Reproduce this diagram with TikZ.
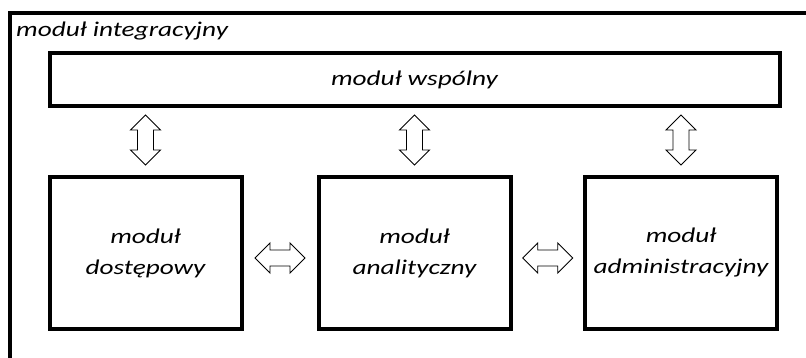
\documentclass[tikz,border=0pt]{standalone}
\usepackage{fontspec}
\usepackage{graphicx}
\setmainfont{Carlito}
\usetikzlibrary{calc}
\newcommand\stx[1]{\scalebox{1.3}[1]{#1}}
\tikzset{
  frame/.style={draw=black, line width=4pt, outer sep=0pt, inner sep=0pt, fill=white},
  modbox/.style={frame, minimum width=192pt, minimum height=152pt, align=center,
     font=\fontsize{21}{31}\selectfont\itshape},
  arrowline/.style={draw=black, line width=0.9pt, fill=white, line join=miter},
  lbl/.style={font=\fontsize{21}{31}\selectfont\itshape, inner sep=0pt}
}
\newcommand\vdarrow[1]{%
  \path[arrowline, shift={(#1)}] (0,-25) -- (15,-10) -- (8,-10) -- (8,10) -- (15,10) -- (0,25)
    -- (-15,10) -- (-8,10) -- (-8,-10) -- (-15,-10) -- cycle;}
\newcommand\hdarrow[1]{%
  \path[arrowline, shift={(#1)}] (-25,0) -- (-10,-15) -- (-10,-8) -- (10,-8) -- (10,-15) -- (25,0)
    -- (10,15) -- (10,8) -- (-10,8) -- (-10,15) -- cycle;}
\begin{document}
\begin{tikzpicture}[x=1pt,y=-1pt]
\useasboundingbox (0,0) rectangle (806,358);
\fill[white] (0,0) rectangle (806,358);
\node[frame, anchor=north west, minimum width=810pt, minimum height=360pt] (outer) at (10,13) {};
\node[lbl, anchor=base west] (outerlbl) at (16,37) {\stx{moduł integracyjny}};
\node[frame, minimum width=730pt, minimum height=53pt, lbl] (common) at (414.5,80) {\stx{moduł wspólny}};
\node[modbox] (lbox) at (145.5,253) {\stx{moduł}\\\stx{dostępowy}};
\node[modbox] (mbox) at (414.5,253) {\stx{moduł}\\\stx{analityczny}};
\node[modbox] (rbox) at (681,253) {\stx{moduł}\\\stx{administracyjny}};
\coordinate (a1) at ($(lbox.north)+(0,-37)$);
\coordinate (a2) at ($(mbox.north)+(0,-37)$);
\coordinate (a3) at ($(rbox.north)+(0,-37)$);
\coordinate (h1) at ($($(lbox.east)!0.5!(mbox.west)$)+(0,5)$);
\coordinate (h2) at ($($(mbox.east)!0.5!(rbox.west)$)+(0,5)$);
\vdarrow{a1}
\vdarrow{a2}
\vdarrow{a3}
\hdarrow{h1}
\hdarrow{h2}
\end{tikzpicture}
\end{document}
